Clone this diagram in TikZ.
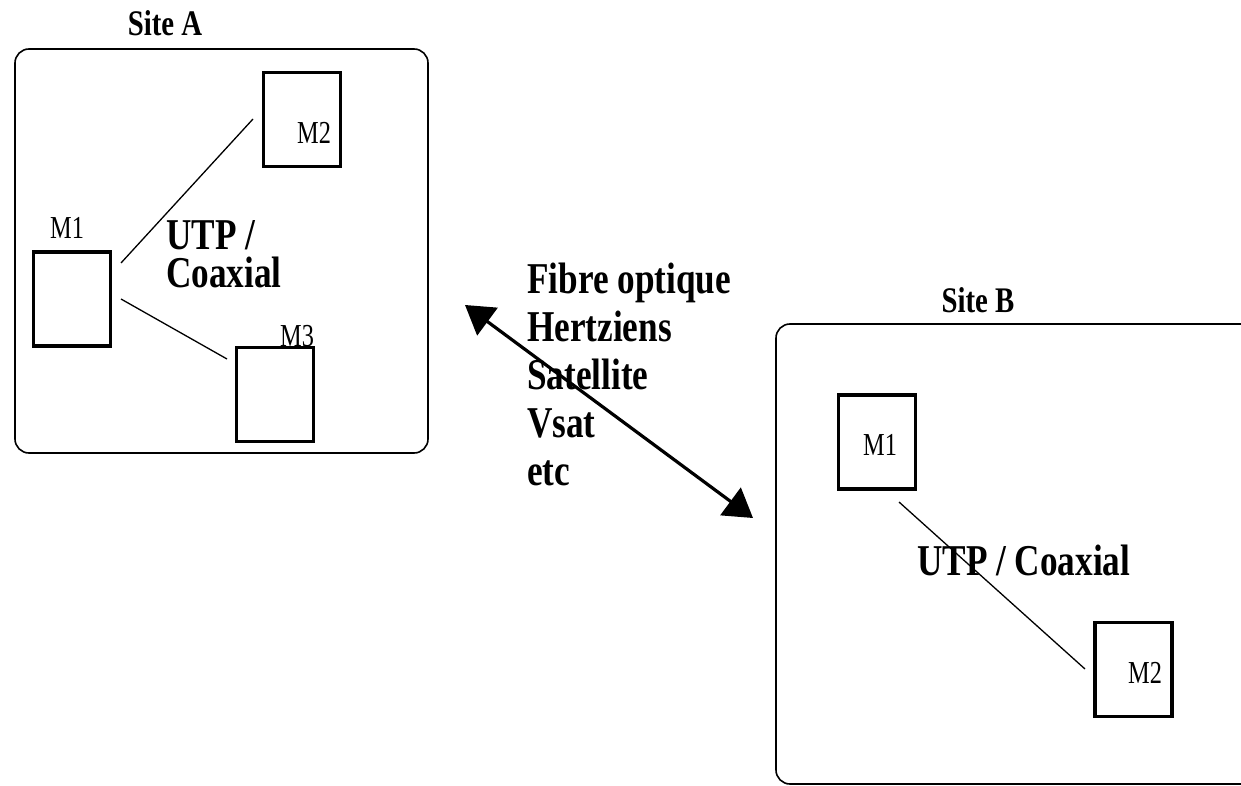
\documentclass[tikz,border=0pt]{standalone}
\usepackage{fontspec}
\setmainfont{Liberation Serif}
\newfontfamily\condbf[FakeStretch=0.8]{Liberation Serif Bold}
\newfontfamily\condrm[FakeStretch=0.76]{Liberation Serif}
\usetikzlibrary{arrows.meta,positioning,calc}

\tikzset{
  site/.style={draw, rounded corners=14pt, line width=1.6pt},
  machine/.style={draw, fill=white, line width=3.6pt, minimum width=77pt,
    minimum height=94pt, inner sep=0pt},
  mlabel/.style={font=\condrm\fontsize{32}{32}\selectfont, inner sep=0pt, anchor=base west},
  sitetitle/.style={font=\condbf\fontsize{36}{36}\selectfont, inner sep=0pt, anchor=base},
  medium/.style={font=\condbf\fontsize{44}{37}\selectfont, inner sep=0pt, align=left, anchor=base west},
  cable/.style={line width=1.3pt},
  wan/.style={{Triangle[length=28pt,width=34pt]}-{Triangle[length=28pt,width=34pt]}, line width=3.2pt}
}

\begin{document}
\begin{tikzpicture}[x=1pt, y=-1pt]
  \useasboundingbox (0,0) rectangle (1241,786);

  % site A
  \node[sitetitle] (sa) at (165,36) {Site A};
  \draw[site] (15,49) rectangle (428,453);
  \node[mlabel] (la3) at (280,346) {M3};
  \node[machine] (a1) at (72,299) {};
  \node[machine] (a2) at (302,119.5) {};
  \node[machine] (a3) at (275,394.5) {};
  \node[mlabel] (la1) at (50,239) {M1};
  \node[mlabel] (la2) at (297,144) {M2};
  \coordinate (a1t) at (121,263);
  \coordinate (a1b) at (121,299);
  \coordinate (a2s) at (253,119);
  \coordinate (a3s) at (227,359);
  \draw[cable] (a1t) -- (a2s);
  \draw[cable] (a1b) -- (a3s);
  % base = baseline of the last line
  \node[medium] (ca) at (166,287) {UTP /\\Coaxial};

  % liaison entre sites
  \node[medium, font=\condbf\fontsize{44}{48}\selectfont] (media) at (527,485)
    {Fibre optique\\Hertziens\\Satellite\\Vsat\\etc};
  \coordinate (wa) at (465,305);
  \coordinate (wb) at (753,518);
  \draw[wan] (wa) -- (wb);

  % site B
  \begin{scope}
    \clip (0,0) rectangle (1241,786);
    \draw[site] (776,324) rectangle (1270,784);
  \end{scope}
  \node[sitetitle] (sb) at (978,312) {Site B};
  \node[machine] (b1) at (877,442) {};
  \node[machine] (b2) at (1133.5,669.5) {};
  \node[mlabel] (lb1) at (863,455) {M1};
  \node[mlabel] (lb2) at (1128,683) {M2};
  \coordinate (b1s) at (899,502);
  \coordinate (b2s) at (1085,669);
  \draw[cable] (b1s) -- (b2s);
  \node[medium] (cb) at (917,575) {UTP / Coaxial};
\end{tikzpicture}
\end{document}
